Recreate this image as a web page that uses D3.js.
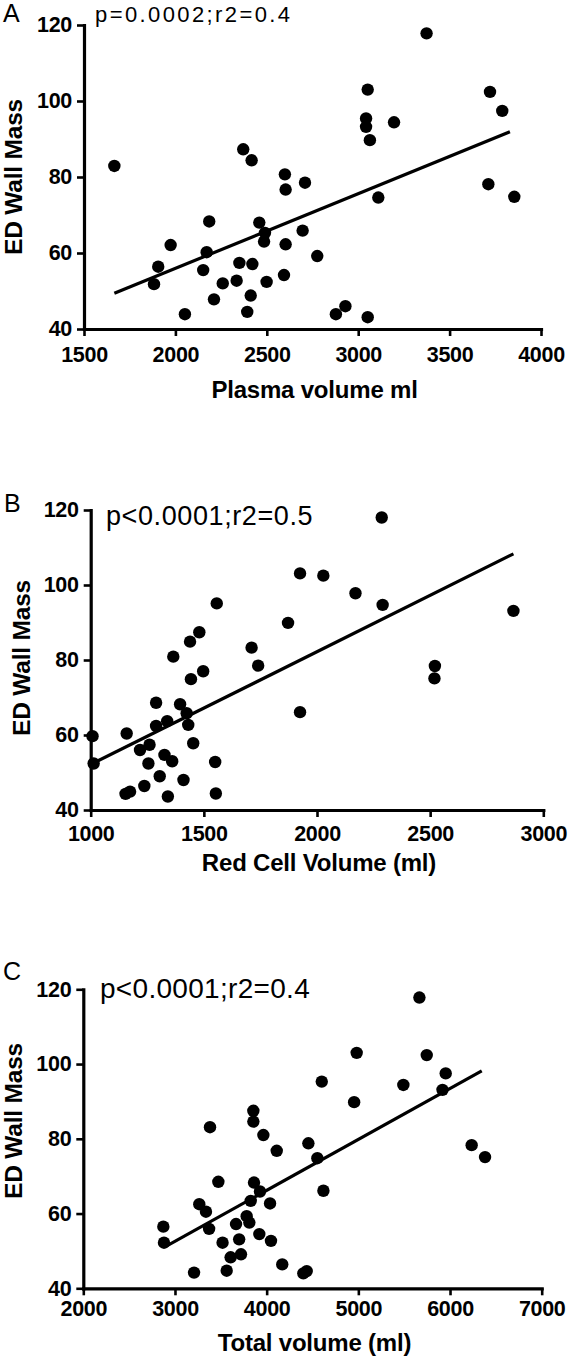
<!DOCTYPE html>
<html><head><meta charset="utf-8">
<script src="https://cdn.jsdelivr.net/npm/d3@7"></script>
<style>
body{margin:0;background:#fff}
svg{display:block}
text{font-family:"Liberation Sans",Arial,Helvetica,sans-serif;fill:#000}
</style>
</head><body>
<svg id="chart" width="568" height="1361"></svg>
<script>
// ---------- data ----------
const wallMassTicks = [40, 60, 80, 100, 120];

// Panel A: plasma volume (ml) vs ED wall mass
const plasmaTicks = [1500, 2000, 2500, 3000, 3500, 4000];
const plasmaVolume = [1666,2371,2417,2599,2603,2709,2185,2459,2490,2485,2696,2603,1974,2171,2776,1906,2152,2350,2421,1883,2259,2335,2499,2594,2211,2412,2052,2393,2878,2930,3052,3374,3052,3043,3043,3064,3196,3721,3788,3712,3854,3110];
const plasmaMass   = [82.9,87.3,84.4,80.7,76.7,78.5,68.3,68.0,65.3,63.0,65.9,62.3,62.1,60.2,59.2,56.4,55.5,57.4,57.1,51.8,52.0,52.7,52.4,54.2,47.8,48.8,43.9,44.5,43.9,46.0,43.1,117.8,103.0,95.4,93.2,89.7,94.4,102.4,97.4,78.1,74.8,74.6];
const plasmaFitX = [1666, 3830];
const plasmaFitY = [49.4, 91.9];

// Panel B: red cell volume (ml) vs ED wall mass
const redCellTicks = [1000, 1500, 2000, 2500, 3000];
const redCellVolume = [1557,1480,1439,1365,1497,1443,1711,1740,1289,1395,1424,1431,1338,1289,1159,1453,1008,1013,1218,1260,1255,1326,1360,1305,1410,1237,1154,1174,1341,1550,1553,1872,2286,1925,2028,2170,2290,2868,2521,2519,1925];
const redCellMass   = [95.1,87.4,84.9,80.9,77.0,74.9,83.3,78.5,68.6,68.2,65.8,62.7,63.7,62.4,60.4,57.8,59.7,52.4,56.0,57.4,52.4,54.7,53.0,49.0,48.0,46.4,44.3,44.9,43.6,52.8,44.4,89.9,118.0,103.1,102.5,97.8,94.7,93.1,78.4,75.1,66.1];
const redCellFitX = [1015, 2868];
const redCellFitY = [52.6, 108.3];

// Panel C: total volume (ml) vs ED wall mass
const totalTicks = [2000, 3000, 4000, 5000, 6000, 7000];
const totalVolume = [3382,3855,3855,3964,4110,4455,4553,4619,3473,3862,3927,3826,4037,3265,3338,2873,2880,3372,3782,3666,3811,3700,3519,3920,4047,3607,3720,3208,3564,4170,4400,4437,5666,4982,5746,5953,4601,5491,4954,5918,6236,6382];
const totalMass   = [83.1,87.5,84.6,81.0,76.8,78.8,74.8,66.1,68.5,68.3,65.9,63.4,62.7,62.5,60.5,56.5,52.2,55.9,59.3,57.2,57.6,53.1,52.2,54.5,52.7,48.3,49.1,44.2,44.7,46.4,44.0,44.6,117.8,103.0,102.4,97.5,95.3,94.4,89.8,93.1,78.3,75.1];
const totalFitX = [2891, 6346];
const totalFitY = [51.1, 98.2];

const panelLetters = ["A", "B", "C"];
const statLabels = ["p=0.0002;r2=0.4", "p<0.0001;r2=0.5", "p<0.0001;r2=0.4"];
const xTitles = ["Plasma volume ml", "Red Cell Volume (ml)", "Total volume (ml)"];
const yTitle = "ED Wall Mass";

// ---------- drawing ----------
const svg = d3.select("#chart");

function drawPanel(o) {
  const g = svg.append("g");
  const x = d3.scaleLinear().domain([o.xTicks[0], o.xTicks[o.xTicks.length - 1]]).range([o.left, o.right]);
  const y = d3.scaleLinear().domain([40, 120]).range([o.bottom, o.top]);

  // dots
  g.append("g").selectAll("circle")
    .data(o.xs.map((v, i) => [v, o.ys[i]]))
    .join("circle")
    .attr("cx", d => x(d[0]))
    .attr("cy", d => y(d[1]))
    .attr("r", 6.2)
    .attr("fill", "#000");

  // fit line
  g.append("line")
    .attr("x1", x(o.fitX[0])).attr("y1", y(o.fitY[0]))
    .attr("x2", x(o.fitX[1])).attr("y2", y(o.fitY[1]))
    .attr("stroke", "#000").attr("stroke-width", 3.2);

  // axes
  const ya = g.append("g").attr("transform", `translate(${o.left},0)`)
    .call(d3.axisLeft(y).tickValues(wallMassTicks).tickSize(7).tickSizeOuter(0).tickPadding(5));
  const xa = g.append("g").attr("transform", `translate(0,${o.bottom})`)
    .call(d3.axisBottom(x).tickValues(o.xTicks).tickFormat(d3.format("d")).tickSize(7).tickSizeOuter(0).tickPadding(o.xPad));
  [ya, xa].forEach(a => {
    a.select(".domain").attr("stroke", "#000").attr("stroke-width", 3.2).attr("stroke-linecap", "square");
    a.selectAll(".tick line").attr("stroke", "#000").attr("stroke-width", 2.6);
    a.selectAll(".tick text").attr("fill", "#000")
      .style("font-family", '"Liberation Sans",Arial,sans-serif')
      .style("font-size", "21.5px").style("font-weight", "bold").style("letter-spacing", "-0.3px");
  });

  // panel letter
  g.append("text").attr("x", o.letterX).attr("y", o.letterY)
    .style("font-size", "25px").text(o.letter);

  // stats label
  g.append("text").attr("x", o.statX).attr("y", o.statY)
    .style("font-size", o.statSize + "px").style("letter-spacing", o.statSpacing + "px")
    .text(o.stat);

  // x title
  g.append("text").attr("x", (o.left + o.right) / 2 + 2).attr("y", o.bottom + o.xTitleOff)
    .attr("text-anchor", "middle")
    .style("font-size", "24px").style("font-weight", "bold").style("letter-spacing", "-0.2px")
    .text(o.xTitle);

  // y title
  g.append("text")
    .attr("transform", `translate(${o.yTitleX},${o.yTitleCy}) rotate(-90)`)
    .attr("text-anchor", "middle")
    .style("font-size", "24.5px").style("font-weight", "bold").style("letter-spacing", "-0.2px")
    .text(yTitle);
}

drawPanel({left: 84, right: 541, top: 25, bottom: 329,
  xTicks: plasmaTicks, xs: plasmaVolume, ys: plasmaMass, fitX: plasmaFitX, fitY: plasmaFitY,
  letter: panelLetters[0], letterX: 3, letterY: 22,
  stat: statLabels[0], statX: 95, statY: 22, statSize: 22, statSpacing: 2.4,
  xTitle: xTitles[0], xTitleOff: 69, xPad: 11, yTitleX: 22, yTitleCy: 177});

drawPanel({left: 90.7, right: 543.3, top: 510, bottom: 810,
  xTicks: redCellTicks, xs: redCellVolume, ys: redCellMass, fitX: redCellFitX, fitY: redCellFitY,
  letter: panelLetters[1], letterX: 4, letterY: 512,
  stat: statLabels[1], statX: 106, statY: 525, statSize: 27, statSpacing: 0.6,
  xTitle: xTitles[1], xTitleOff: 61, xPad: 9, yTitleX: 30, yTitleCy: 658});

drawPanel({left: 83.3, right: 541.7, top: 989.3, bottom: 1288.3,
  xTicks: totalTicks, xs: totalVolume, ys: totalMass, fitX: totalFitX, fitY: totalFitY,
  letter: panelLetters[2], letterX: 3, letterY: 980,
  stat: statLabels[2], statX: 100, statY: 998, statSize: 28, statSpacing: 0.3,
  xTitle: xTitles[2], xTitleOff: 63, xPad: 5, yTitleX: 22, yTitleCy: 1121});
</script>
</body></html>
